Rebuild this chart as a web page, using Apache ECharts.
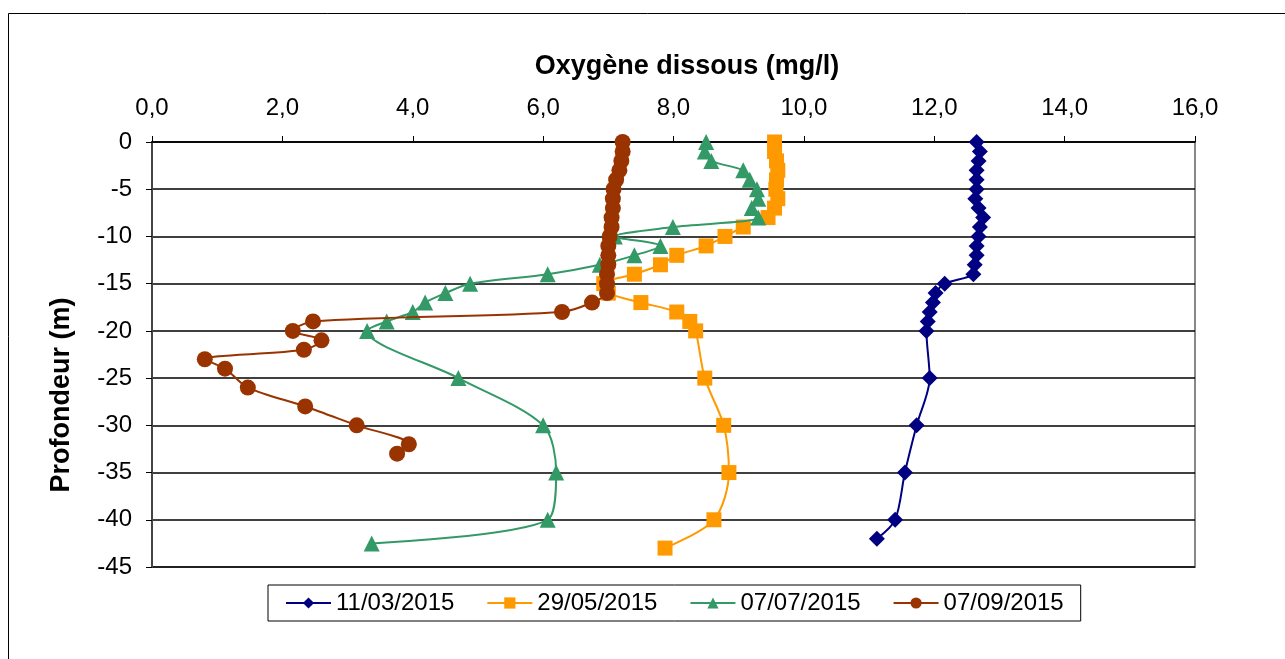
<!DOCTYPE html>
<html>
<head>
<meta charset="utf-8">
<script src="https://cdn.jsdelivr.net/npm/echarts@6/dist/echarts.min.js"></script>
<style>
html,body{margin:0;padding:0;background:#fff;}
#chart{width:1285px;height:659px;}
</style>
</head>
<body>
<div id="chart"></div>
<script>
// ---- Data ----
var seriesNames = ['11/03/2015', '29/05/2015', '07/07/2015', '07/09/2015'];

var depth1 = [0,-1,-2,-3,-4,-5,-6,-7,-8,-9,-10,-11,-12,-13,-14,-15,-16,-17,-18,-19,-20,-25,-30,-35,-40,-42];
var oxy1   = [12.65,12.7,12.68,12.65,12.65,12.65,12.63,12.68,12.75,12.7,12.68,12.65,12.65,12.62,12.6,12.16,12.02,11.98,11.93,11.9,11.88,11.93,11.73,11.55,11.4,11.12];

var depth2 = [0,-1,-2,-3,-4,-5,-6,-7,-8,-9,-10,-11,-12,-13,-14,-15,-16,-17,-18,-19,-20,-25,-30,-35,-40,-43];
var oxy2   = [9.55,9.55,9.58,9.6,9.58,9.57,9.6,9.55,9.45,9.07,8.79,8.5,8.05,7.8,7.4,6.93,7.0,7.5,8.05,8.25,8.34,8.48,8.77,8.85,8.62,7.87];

var depth3 = [0,-1,-2,-3,-4,-5,-6,-7,-8,-9,-10,-11,-12,-13,-14,-15,-16,-17,-18,-19,-20,-25,-30,-35,-40,-42.5];
var oxy3   = [8.5,8.48,8.58,9.07,9.17,9.28,9.3,9.2,9.3,7.99,7.1,7.8,7.4,6.87,6.07,4.88,4.5,4.19,4.0,3.6,3.3,4.7,6.0,6.2,6.07,3.37];

var depth4 = [0,-1,-2,-3,-4,-5,-6,-7,-8,-9,-10,-11,-12,-13,-14,-15,-16,-17,-18,-19,-20,-21,-22,-23,-24,-26,-28,-30,-32,-33];
var oxy4   = [7.22,7.22,7.2,7.17,7.12,7.08,7.07,7.07,7.05,7.05,7.02,7.0,7.0,7.0,6.98,6.98,6.98,6.75,6.29,2.47,2.16,2.6,2.33,0.81,1.12,1.47,2.35,3.14,3.94,3.76];

var xTicks = [0,2,4,6,8,10,12,14,16];
var yTicks = [0,-5,-10,-15,-20,-25,-30,-35,-40,-45];

var xTitle = 'Oxygène dissous (mg/l)';
var yTitle = 'Profondeur (m)';

// ---- Build ----
function pairs(xs, ys){ return xs.map(function(x,i){ return [x, ys[i]]; }); }
var colors = ['#000080', '#FF9900', '#339966', '#993300'];
var symbols = ['diamond', 'rect', 'triangle', 'circle'];
var sizes = [16, 15, 16, 16];
var datasets = [pairs(oxy1, depth1), pairs(oxy2, depth2), pairs(oxy3, depth3), pairs(oxy4, depth4)];

var FONT = 'Liberation Sans, Arial, sans-serif';

var chart = echarts.init(document.getElementById('chart'), null, {renderer:'canvas'});
chart.setOption({
  animation: false,
  backgroundColor: '#fff',
  title: {
    text: xTitle,
    left: 682, top: 48,
    textAlign: 'center',
    textStyle: {fontFamily: FONT, fontSize: 27, fontWeight: 'bold', color: '#000'}
  },
  graphic: [
    {type:'rect', shape:{x:8.5, y:13.5, width:1300, height:700}, style:{fill:'none', stroke:'#000', lineWidth:1}, z:-1},
    {type:'text', x:62, y:395, rotation: Math.PI/2,
     style:{text: yTitle, font: 'bold 27px ' + FONT, fill:'#000', align:'center', verticalAlign:'middle'}}
  ],
  grid: {left: 152, right: 90, top: 142, bottom: 92, show: true, borderColor: '#888', borderWidth: 2, containLabel: false},
  xAxis: {
    type: 'value', position: 'top', min: 0, max: 16, interval: 2,
    axisLine: {show: true, lineStyle: {color: '#000', width: 1.5}},
    axisTick: {show: true, inside: false, length: 6, lineStyle: {color: '#000'}},
    axisLabel: {margin: 22, fontFamily: FONT, fontSize: 24, color: '#000',
      formatter: function(v){ return v.toFixed(1).replace('.', ','); }},
    splitLine: {show: false}
  },
  yAxis: {
    type: 'value', min: -45, max: 0, interval: 5,
    axisLine: {show: true, lineStyle: {color: '#444', width: 2}},
    axisTick: {show: true, inside: false, length: 6, lineStyle: {color: '#000'}},
    axisLabel: {margin: 20, fontFamily: FONT, fontSize: 24, color: '#000'},
    splitLine: {show: true, lineStyle: {color: '#000', width: 1.5}}
  },
  legend: {
    left: 268, top: 585,
    padding: [6, 17],
    itemGap: 32, itemWidth: 45, itemHeight: 14,
    borderColor: '#000', borderWidth: 1,
    textStyle: {fontFamily: FONT, fontSize: 24, color: '#000'},
    data: seriesNames
  },
  series: seriesNames.map(function(n, i){
    return {
      name: n, type: 'line', data: datasets[i],
      smooth: 0.3,
      symbol: symbols[i], symbolSize: sizes[i],
      lineStyle: {color: colors[i], width: 2},
      itemStyle: {color: colors[i]},
      z: 2 + i
    };
  })
});
</script>
</body>
</html>
